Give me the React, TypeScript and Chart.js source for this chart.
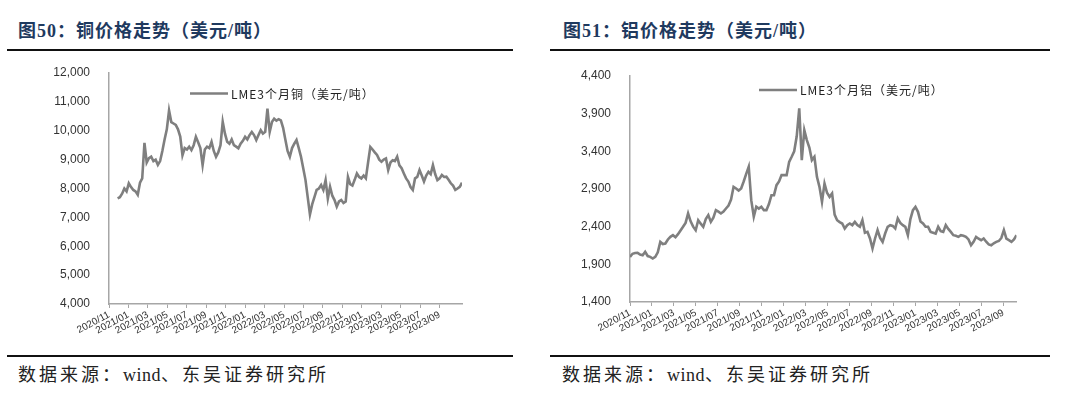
import React, { useEffect, useRef } from "react";
import { Chart, registerables } from "chart.js";

Chart.register(...registerables);

// ---------- data ----------
const xTickLabels = [
  "2020/11", "2021/01", "2021/03", "2021/05", "2021/07", "2021/09",
  "2021/11", "2022/01", "2022/03", "2022/05", "2022/07", "2022/09",
  "2022/11", "2023/01", "2023/03", "2023/05", "2023/07", "2023/09",
];

// weekly observations; start given in days after 2020-11-01
const copperStartDay = 27;
const aluminumStartDay = 0;
const weekDays = 7;

const copperValues = [
  7660, 7700, 7820, 8000, 7900, 8180, 8050, 7950, 7900, 7780,
  8200, 8350, 9580, 8900, 9050, 9100, 8950, 9000, 8820, 8950,
  9300, 9700, 10050, 10700, 10300, 10250, 10200, 10050, 9800, 9150,
  9400, 9350, 9450, 9330, 9500, 9790, 9600, 9400, 8810, 9350,
  9450, 9400, 9620, 9300, 9100, 9250, 9500, 10310, 9900, 9620,
  9550, 9700, 9500, 9450, 9390, 9550, 9650, 9790, 9700, 9850,
  9960, 9850, 9680, 9850, 10020, 9900, 9960, 10770, 9960, 10300,
  10420, 10350, 10400, 10360, 10100, 9700, 9300, 9100, 9400, 9550,
  9680, 9400, 9100, 8700, 8300, 7700, 7100, 7450, 7700, 7950,
  8000, 8120, 7950, 8290, 7650, 8060, 7750, 7600, 7370, 7550,
  7600, 7500, 7550, 8400, 8150, 8100, 8300, 8520, 8400, 8350,
  8450, 8350, 8900, 9440, 9350, 9250, 9160, 9000, 8930, 9000,
  9040, 8640, 8900, 8980, 8950, 9100, 8800, 8700, 8520, 8350,
  8240, 8050, 7950, 8350, 8400, 8640, 8450, 8240, 8450, 8580,
  8500, 8810, 8500, 8290, 8350, 8470, 8400, 8410, 8300, 8180,
  8100, 7950, 8000, 8060, 8200,
];

const aluminumValues = [
  1999, 2040, 2050, 2052, 2030, 2021, 2065, 2010, 1999, 1977,
  2000, 2060, 2198, 2170, 2176, 2230, 2265, 2287, 2260, 2300,
  2350, 2398, 2450, 2575, 2470, 2400, 2353, 2486, 2440, 2398,
  2500, 2553, 2464, 2520, 2619, 2600, 2575, 2600, 2641, 2680,
  2760, 2929, 2907, 2880, 2907, 3000, 3100, 3195, 2752, 2531,
  2664, 2640, 2664, 2619, 2619, 2700, 2818, 2818, 2951, 3000,
  3084, 3084, 3084, 3261, 3328, 3400, 3600, 3970, 3284, 3682,
  3549, 3450, 3284, 3328, 3062, 2929, 2730, 2974, 2850, 2796,
  2841, 2560, 2486, 2460, 2442, 2376, 2420, 2442, 2420, 2464,
  2420, 2398, 2486, 2320, 2331, 2243, 2110, 2243, 2354, 2250,
  2198, 2309, 2398, 2420, 2410, 2376, 2508, 2450, 2420, 2398,
  2287, 2500, 2619, 2663, 2597, 2470, 2442, 2398, 2398, 2331,
  2320, 2309, 2398, 2340, 2331, 2420, 2370, 2331, 2287, 2280,
  2265, 2287, 2280, 2265, 2230, 2154, 2200, 2265, 2240, 2220,
  2243, 2200, 2165, 2154, 2180, 2198, 2210, 2250, 2354, 2240,
  2220, 2198, 2230, 2287,
];

const copperLabel = "LME3个月铜（美元/吨）";
const aluminumLabel = "LME3个月铝（美元/吨）";
const copperTitle = "图50：铜价格走势（美元/吨）";
const aluminumTitle = "图51：铝价格走势（美元/吨）";
const sourceHead = "数据来源：";
const sourceWind = "wind";
const sourceTail = "、东吴证券研究所";

const copperY = { min: 4000, max: 12000, step: 1000 };
const aluminumY = { min: 1400, max: 4400, step: 500 };

const DAYS_PER_MONTH = 30.44;

// ---------- chart ----------
const inlineLegend = {
  id: "inlineLegend",
  afterDraw(chart: any, _args: any, opts: any) {
    const { ctx, chartArea } = chart;
    const ds = chart.data.datasets[0];
    const x0 = chartArea.left + opts.dx;
    const y0 = chartArea.top + opts.dy;
    ctx.save();
    ctx.strokeStyle = ds.borderColor;
    ctx.lineWidth = 2.5;
    ctx.beginPath();
    ctx.moveTo(x0, y0);
    ctx.lineTo(x0 + 38, y0);
    ctx.stroke();
    ctx.font = '12px "Noto Sans CJK SC"';
    try { (ctx as any).letterSpacing = "1px"; } catch (e) {}
    ctx.fillStyle = "#222";
    ctx.textAlign = "left";
    ctx.textBaseline = "middle";
    ctx.fillText(ds.label, x0 + 41, y0 + 0.5);
    ctx.restore();
  },
};

type PanelProps = {
  values: number[];
  startDay: number;
  label: string;
  yRange: { min: number; max: number; step: number };
  left: number;
  yAxisWidth: number;
  padTop: number;
  padRight: number;
  xAxisHeight: number;
  legendDx: number;
  legendDy: number;
};

const CANVAS_W = 540;
const CANVAS_H = 290;
const CANVAS_TOP = 60;

function PriceChart(p: PanelProps) {
  const ref = useRef<HTMLCanvasElement | null>(null);
  useEffect(() => {
    if (!ref.current) return;
    const points = p.values.map((v, i) => ({
      x: (p.startDay + i * weekDays) / DAYS_PER_MONTH,
      y: v,
    }));
    const xMax = points[points.length - 1].x;
    const chart = new Chart(ref.current, {
      type: "line",
      data: {
        datasets: [
          {
            label: p.label,
            data: points,
            borderColor: "#7f7f7f",
            backgroundColor: "#7f7f7f",
            borderWidth: 2.6,
            pointRadius: 0,
            tension: 0,
          },
        ],
      },
      plugins: [inlineLegend],
      options: {
        animation: false,
        responsive: false,
        devicePixelRatio: 1,
        layout: { padding: { top: p.padTop, right: p.padRight, left: 0, bottom: 0 } },
        plugins: {
          legend: { display: false },
          tooltip: { enabled: false },
          inlineLegend: { dx: p.legendDx, dy: p.legendDy },
        } as any,
        scales: {
          x: {
            type: "linear",
            min: 0,
            max: xMax,
            afterBuildTicks: (scale: any) => {
              scale.ticks = xTickLabels.map((_, i) => ({ value: i * 2 }));
            },
            afterFit: (scale: any) => {
              scale.height = p.xAxisHeight;
            },
            grid: {
              display: true,
              drawOnChartArea: false,
              drawTicks: true,
              tickLength: 4,
              color: "#a6a6a6",
              lineWidth: 1,
            },
            border: { display: true, color: "#a6a6a6", width: 1.5 },
            ticks: {
              autoSkip: false,
              maxRotation: 28,
              minRotation: 28,
              padding: 1,
              color: "#333",
              font: { family: '"Liberation Sans", Arial, sans-serif', size: 10 },
              callback: (_v: any, i: number) => xTickLabels[i],
            },
          },
          y: {
            type: "linear",
            min: p.yRange.min,
            max: p.yRange.max,
            afterFit: (scale: any) => {
              scale.width = p.yAxisWidth;
              scale.paddingTop = 6;
              scale.paddingBottom = 6;
            },
            grid: { display: false, drawTicks: false },
            border: { display: true, color: "#a6a6a6", width: 1.5 },
            ticks: {
              stepSize: p.yRange.step,
              padding: 19,
              color: "#333",
              font: { family: '"Liberation Sans", Arial, sans-serif', size: 12 },
              callback: (v: any) => Number(v).toLocaleString("en-US"),
            },
          },
        },
      } as any,
    });
    return () => chart.destroy();
  }, []);
  return (
    <canvas
      ref={ref}
      width={CANVAS_W}
      height={CANVAS_H}
      style={{
        position: "absolute",
        left: p.left,
        top: CANVAS_TOP,
        width: CANVAS_W,
        height: CANVAS_H,
      }}
    />
  );
}

const titleStyle: React.CSSProperties = {
  position: "absolute",
  top: 21,
  fontFamily: '"Liberation Serif", "Noto Sans CJK SC", serif',
  fontWeight: 700,
  fontSize: 18,
  lineHeight: "20px",
  letterSpacing: "1px",
  color: "#1f3a5f",
  whiteSpace: "nowrap",
};

const sourceStyle: React.CSSProperties = {
  position: "absolute",
  top: 365,
  fontFamily: '"Liberation Serif", "Noto Sans CJK SC", serif',
  fontWeight: 400,
  fontSize: 18,
  lineHeight: "20px",
  letterSpacing: "3px",
  color: "#222",
  whiteSpace: "nowrap",
};

const rule = (left: number, width: number, top: number): React.CSSProperties => ({
  position: "absolute",
  left,
  top,
  width,
  height: 2,
  background: "#111",
});

function Source({ left }: { left: number }) {
  return (
    <div style={{ ...sourceStyle, left }}>
      {sourceHead}
      <span style={{ letterSpacing: "0.5px" }}>{sourceWind}</span>
      {sourceTail}
    </div>
  );
}

export default function App() {
  return (
    <div
      style={{
        position: "absolute",
        left: 0,
        top: 0,
        width: 1080,
        height: 405,
        background: "#fff",
        overflow: "hidden",
      }}
    >
      <div style={{ ...titleStyle, left: 18 }}>{copperTitle}</div>
      <div style={{ ...titleStyle, left: 563 }}>{aluminumTitle}</div>
      <div style={rule(7, 506, 49)} />
      <div style={rule(550, 500, 49)} />

      <PriceChart
        values={copperValues}
        startDay={copperStartDay}
        label={copperLabel}
        yRange={copperY}
        left={0}
        yAxisWidth={109}
        padTop={13}
        padRight={78}
        xAxisHeight={46}
        legendDx={81}
        legendDy={20.5}
      />
      <PriceChart
        values={aluminumValues}
        startDay={aluminumStartDay}
        label={aluminumLabel}
        yRange={aluminumY}
        left={540}
        yAxisWidth={90}
        padTop={16}
        padRight={63.5}
        xAxisHeight={48}
        legendDx={129}
        legendDy={14}
      />

      <div style={rule(7, 506, 355)} />
      <div style={rule(550, 500, 355)} />
      <Source left={18} />
      <Source left={562} />
    </div>
  );
}
